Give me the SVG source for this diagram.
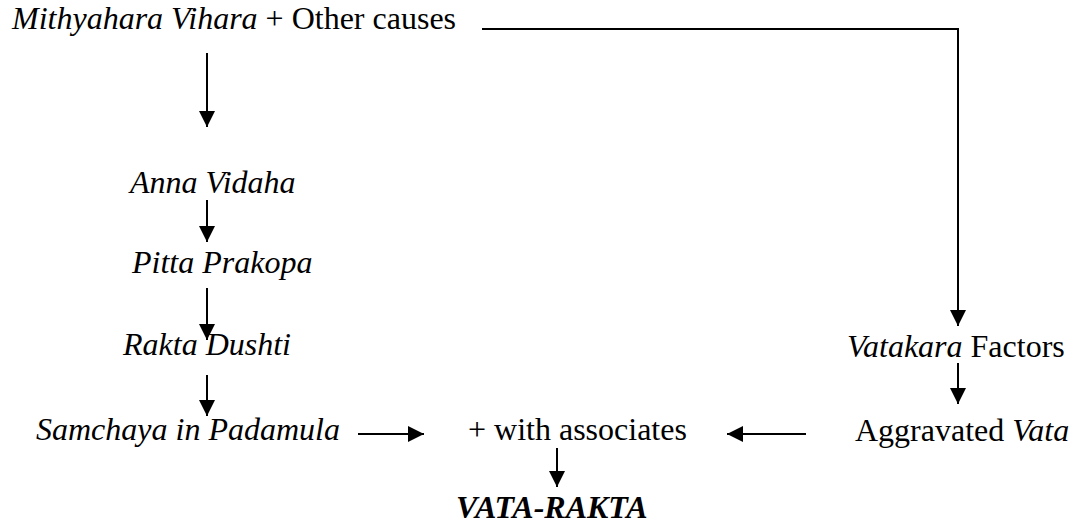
<svg xmlns="http://www.w3.org/2000/svg" width="1075" height="526" viewBox="0 0 1075 526">
<style>
text{font-family:'Liberation Serif','Tinos','Times New Roman','Times','Nimbus Roman','DejaVu Serif',serif;font-size:32px;fill:#000}
.i{font-style:italic}
.b{font-weight:bold;font-style:italic}
.c{stroke:#000;stroke-width:2;fill:none}
</style>
<defs>
<marker id="ah" viewBox="0 0 10 10" refX="10" refY="5" markerWidth="8" markerHeight="8" markerUnits="strokeWidth" orient="auto">
<path d="M0,0 L10,5 L0,10 Z" fill="#000"/>
</marker>
</defs>
<rect width="1075" height="526" fill="#fff"/>
<g id="n1"><text x="12" y="29"><tspan class="i">Mithyahara Vihara</tspan> + Other causes</text></g>
<g id="n2"><text x="130" y="193" class="i">Anna Vidaha</text></g>
<g id="n3"><text x="132" y="273" class="i">Pitta Prakopa</text></g>
<g id="n4"><text x="123" y="355" class="i">Rakta Dushti</text></g>
<g id="n5"><text x="36" y="440" class="i">Samchaya in Padamula</text></g>
<g id="n6"><text x="468" y="440">+ with associates</text></g>
<g id="n7"><text x="847" y="357"><tspan class="i">Vatakara</tspan> Factors</text></g>
<g id="n8"><text x="855" y="441">Aggravated <tspan class="i">Vata</tspan></text></g>
<g id="n9"><text x="456" y="518" class="b">VATA-RAKTA</text></g>
<g id="connectors">
<line class="c" x1="207" y1="53" x2="207" y2="127" marker-end="url(#ah)"/>
<line class="c" x1="207" y1="200" x2="207" y2="242" marker-end="url(#ah)"/>
<line class="c" x1="207" y1="288" x2="207" y2="340" marker-end="url(#ah)"/>
<line class="c" x1="207" y1="375" x2="207" y2="416" marker-end="url(#ah)"/>
<line class="c" x1="358" y1="434" x2="424" y2="434" marker-end="url(#ah)"/>
<line class="c" x1="806" y1="434" x2="727" y2="434" marker-end="url(#ah)"/>
<line class="c" x1="958" y1="363" x2="958" y2="404" marker-end="url(#ah)"/>
<line class="c" x1="557" y1="448" x2="557" y2="487" marker-end="url(#ah)"/>
<polyline class="c" points="482,29 958,29 958,326" marker-end="url(#ah)"/>
</g>
</svg>
